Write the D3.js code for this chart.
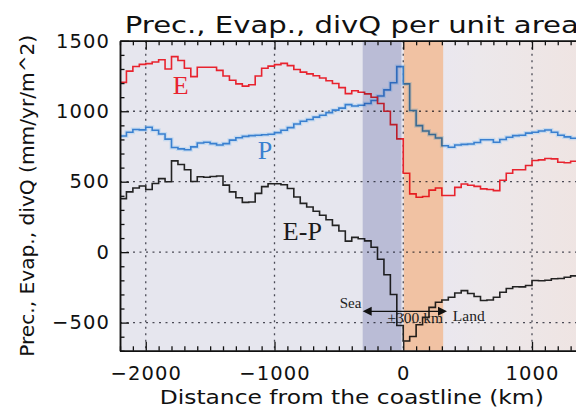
<!DOCTYPE html>
<html>
<head>
<meta charset="utf-8">
<script src="https://cdn.jsdelivr.net/npm/d3@7"></script>
<style>
  html, body { margin: 0; padding: 0; background: #ffffff; }
  svg { display: block; }
  .tick text { font-family: "DejaVu Sans", sans-serif; }
</style>
</head>
<body>
<svg id="chart" width="576" height="410"></svg>
<script>
// Start of each 50 km distance bin, km from the coastline (negative = over the sea)
const distanceKm = [
  -2200, -2150, -2100, -2050, -2000, -1950, -1900, -1850, -1800, -1750,
  -1700, -1650, -1600, -1550, -1500, -1450, -1400, -1350, -1300, -1250,
  -1200, -1150, -1100, -1050, -1000, -950, -900, -850, -800, -750,
  -700, -650, -600, -550, -500, -450, -400, -350, -300, -250,
  -200, -150, -100, -50, 0, 50, 100, 150, 200, 250,
  300, 350, 400, 450, 500, 550, 600, 650, 700, 750,
  800, 850, 900, 950, 1000, 1050, 1100, 1150, 1200, 1250, 1300
];
const binWidthKm = 50;

// Evaporation E (mm/yr/m^2)
const evaporation = [
  1205, 1285, 1318, 1333, 1338, 1350, 1365, 1300, 1388, 1360,
  1305, 1246, 1312, 1312, 1312, 1290, 1250, 1220, 1194, 1178,
  1188, 1250, 1305, 1320, 1331, 1340, 1324, 1296, 1278, 1265,
  1252, 1236, 1216, 1197, 1168, 1125, 1146, 1135, 1123, 1099,
  1055, 1000, 905, 804, 560, 414, 390, 395, 440, 455,
  402, 402, 460, 484, 475, 467, 449, 445, 437, 510,
  560, 585, 585, 615, 650, 655, 665, 662, 638, 635, 645
];

// Precipitation P (mm/yr/m^2)
const precipitation = [
  824, 851, 870, 868, 886, 865, 839, 802, 743, 733,
  727, 747, 775, 780, 770, 760, 770, 795, 812, 822,
  827, 830, 833, 837, 848, 865, 884, 910, 929, 942,
  958, 972, 990, 1008, 1022, 1047, 1037, 1043, 1055, 1076,
  1108, 1152, 1202, 1317, 1194, 1005, 898, 860, 835, 810,
  755, 745, 760, 765, 768, 778, 798, 798, 780, 800,
  815, 827, 830, 845, 851, 860, 867, 851, 830, 818, 808
];

// Moisture divergence E-P (mm/yr/m^2)
const evapMinusPrecip = [
  380, 428, 455, 470, 445, 487, 522, 500, 648, 622,
  585, 502, 535, 532, 537, 540, 476, 428, 386, 353,
  356, 417, 465, 486, 486, 478, 452, 392, 346, 320,
  290, 262, 230, 190, 150, 78, 105, 95, 80, 35,
  -50, -160, -300, -520, -630, -598, -515, -463, -392, -355,
  -340, -320, -290, -273, -293, -315, -343, -340, -320, -285,
  -258, -245, -246, -237, -201, -203, -199, -189, -187, -178, -168
];

const xTickValues = [-2000, -1000, 0, 1000];
const yTickValues = [-500, 0, 500, 1000, 1500];
const xDomain = [-2200, 1400];
const yDomain = [-700, 1500];

// Coastal zones highlighted on either side of the coastline (km)
const seaZone = [-315, -14];
const landZone = [4, 310];

const svg = d3.select("#chart");
const plot = { left: 120, right: 583.5, top: 40.8, bottom: 350.8 };

const x = d3.scaleLinear().domain(xDomain).range([plot.left, plot.right]);
const y = d3.scaleLinear().domain(yDomain).range([plot.bottom, plot.top]);

const defs = svg.append("defs");
defs.append("clipPath").attr("id", "plotClip")
  .append("rect")
  .attr("x", plot.left).attr("y", plot.top)
  .attr("width", plot.right - plot.left).attr("height", plot.bottom - plot.top);

const grad = defs.append("linearGradient").attr("id", "landGrad")
  .attr("gradientUnits", "userSpaceOnUse")
  .attr("x1", x(landZone[1])).attr("x2", plot.right).attr("y1", 0).attr("y2", 0);
grad.append("stop").attr("offset", "0").attr("stop-color", "#eae7ef");
grad.append("stop").attr("offset", "0.25").attr("stop-color", "#ece8eb");
grad.append("stop").attr("offset", "1").attr("stop-color", "#efe4e2");

const g = svg.append("g").attr("clip-path", "url(#plotClip)");

// Plot background: sea side and land side
g.append("rect")
  .attr("x", plot.left).attr("y", plot.top)
  .attr("width", plot.right - plot.left).attr("height", plot.bottom - plot.top)
  .attr("fill", "#e6e6ee");
g.append("rect")
  .attr("x", x(landZone[1])).attr("y", plot.top)
  .attr("width", plot.right - x(landZone[1])).attr("height", plot.bottom - plot.top)
  .attr("fill", "url(#landGrad)");
g.append("rect")
  .attr("x", x(seaZone[1])).attr("y", plot.top)
  .attr("width", x(landZone[0]) - x(seaZone[1])).attr("height", plot.bottom - plot.top)
  .attr("fill", "#e9e7ef");
g.append("rect")
  .attr("x", x(landZone[0])).attr("y", plot.top)
  .attr("width", x(landZone[1]) - x(landZone[0])).attr("height", plot.bottom - plot.top)
  .attr("fill", "#f3ecea");

// Dotted grid at the major ticks
g.selectAll("line.vgrid").data(xTickValues).enter().append("line")
  .attr("class", "vgrid")
  .attr("x1", d => x(d)).attr("x2", d => x(d))
  .attr("y1", plot.top).attr("y2", plot.bottom)
  .attr("stroke", "#4a4a55").attr("stroke-width", 1.3)
  .attr("stroke-dasharray", "2,4.5");
g.selectAll("line.hgrid").data(yTickValues.filter(v => v > yDomain[0] && v < yDomain[1])).enter().append("line")
  .attr("class", "hgrid")
  .attr("y1", d => y(d)).attr("y2", d => y(d))
  .attr("x1", plot.left).attr("x2", plot.right)
  .attr("stroke", "#4a4a55").attr("stroke-width", 1.3)
  .attr("stroke-dasharray", "2,4.5");

// Step lines: each value holds across its 50 km bin
function stepPoints(values) {
  const pts = [];
  values.forEach((v, i) => {
    pts.push([distanceKm[i], v]);
    pts.push([distanceKm[i] + binWidthKm, v]);
  });
  return pts;
}
const line = d3.line().x(d => x(d[0])).y(d => y(d[1]));

g.append("path")
  .attr("d", line(stepPoints(precipitation)))
  .attr("fill", "none").attr("stroke", "#a9d0f3").attr("stroke-width", 4)
  .attr("stroke-opacity", 0.55);
g.append("path")
  .attr("d", line(stepPoints(precipitation)))
  .attr("fill", "none").attr("stroke", "#3a80d0").attr("stroke-width", 1.6);
g.append("path")
  .attr("d", line(stepPoints(evaporation)))
  .attr("fill", "none").attr("stroke", "#e8232e").attr("stroke-width", 1.6);
g.append("path")
  .attr("d", line(stepPoints(evapMinusPrecip)))
  .attr("fill", "none").attr("stroke", "#232323").attr("stroke-width", 1.6);

// Tinted coastal zones laid over the curves
g.append("rect")
  .attr("x", x(seaZone[0])).attr("y", plot.top)
  .attr("width", x(seaZone[1]) - x(seaZone[0])).attr("height", plot.bottom - plot.top)
  .attr("fill", "#cfd1e6").style("mix-blend-mode", "multiply");
g.append("rect")
  .attr("x", x(landZone[0])).attr("y", plot.top)
  .attr("width", x(landZone[1]) - x(landZone[0])).attr("height", plot.bottom - plot.top)
  .attr("fill", "#fdd2b2").style("mix-blend-mode", "multiply");

// Axes with inward ticks: major every 1000 km / 500 units, minor every 100
const xMinor = d3.range(xDomain[0], xDomain[1] + 1, 100).filter(v => !xTickValues.includes(v));
const yMinor = d3.range(yDomain[0], yDomain[1] + 1, 100).filter(v => !yTickValues.includes(v));
const fmt = d3.format("d");

function styleAxis(sel) {
  sel.selectAll("path.domain").attr("stroke", "#111").attr("stroke-width", 1.5);
  sel.selectAll(".tick line").attr("stroke", "#111").attr("stroke-width", 1.3);
  sel.selectAll(".tick text").attr("fill", "#111")
    .style("font-size", "19.5px").style("letter-spacing", "1.1px");
}

svg.append("g").attr("transform", `translate(0,${plot.bottom})`)
  .call(d3.axisBottom(x).tickValues(xMinor).tickSizeInner(-4.5).tickSizeOuter(0).tickFormat(""))
  .call(styleAxis);
svg.append("g").attr("transform", `translate(0,${plot.bottom})`)
  .call(d3.axisBottom(x).tickValues(xTickValues).tickSizeInner(-9).tickSizeOuter(0)
    .tickPadding(15.5).tickFormat(fmt))
  .call(styleAxis);

svg.append("g").attr("transform", `translate(0,${plot.top})`)
  .call(d3.axisTop(x).tickValues(xMinor).tickSizeInner(-4.5).tickSizeOuter(0).tickFormat(""))
  .call(styleAxis);
svg.append("g").attr("transform", `translate(0,${plot.top})`)
  .call(d3.axisTop(x).tickValues(xTickValues).tickSizeInner(-9).tickSizeOuter(0).tickFormat(""))
  .call(styleAxis);

svg.append("g").attr("transform", `translate(${plot.left},0)`)
  .call(d3.axisLeft(y).tickValues(yMinor).tickSizeInner(-4.5).tickSizeOuter(0).tickFormat(""))
  .call(styleAxis);
svg.append("g").attr("transform", `translate(${plot.left},0)`)
  .call(d3.axisLeft(y).tickValues(yTickValues).tickSizeInner(-9).tickSizeOuter(0)
    .tickPadding(10).tickFormat(fmt))
  .call(styleAxis);

// Titles
const sans = '"DejaVu Sans", sans-serif';
const midX = (plot.left + plot.right) / 2;
svg.append("text")
  .attr("x", midX).attr("y", 33)
  .attr("text-anchor", "middle")
  .attr("textLength", 454).attr("lengthAdjust", "spacingAndGlyphs")
  .style("font-family", sans).style("font-size", "22.5px").attr("fill", "#111")
  .text("Prec., Evap., divQ per unit area");
svg.append("text")
  .attr("x", midX).attr("y", 404)
  .attr("text-anchor", "middle")
  .attr("textLength", 384).attr("lengthAdjust", "spacingAndGlyphs")
  .style("font-family", sans).style("font-size", "20px").attr("fill", "#111")
  .text("Distance from the coastline (km)");
svg.append("text")
  .attr("transform", `translate(34,${(plot.top + plot.bottom) / 2}) rotate(-90)`)
  .attr("text-anchor", "middle")
  .attr("textLength", 322).attr("lengthAdjust", "spacingAndGlyphs")
  .style("font-family", sans).style("font-size", "20px").attr("fill", "#111")
  .text("Prec., Evap., divQ (mm/yr/m^2)");

// Series labels
const serif = '"Liberation Serif", "Times New Roman", serif';
svg.append("text").attr("x", x(-1790)).attr("y", y(1120))
  .style("font-family", serif).style("font-size", "26px").attr("fill", "#e8232e").text("E");
svg.append("text").attr("x", x(-1130)).attr("y", y(660))
  .style("font-family", serif).style("font-size", "26px").attr("fill", "#3a80d0").text("P");
svg.append("text").attr("x", x(-935)).attr("y", y(83))
  .style("font-family", serif).style("font-size", "26px").attr("fill", "#1a1a1a").text("E-P");

// Sea / land arrow annotation
const arrowY = y(-420);
const arrowL = x(-315), arrowR = x(340);
svg.append("line")
  .attr("x1", arrowL + 6).attr("x2", arrowR - 6)
  .attr("y1", arrowY).attr("y2", arrowY)
  .attr("stroke", "#111").attr("stroke-width", 1.4);
svg.append("path")
  .attr("d", `M${arrowL},${arrowY} l9,-4.5 l0,9 Z`).attr("fill", "#111");
svg.append("path")
  .attr("d", `M${arrowR},${arrowY} l-9,-4.5 l0,9 Z`).attr("fill", "#111");
svg.append("text").attr("x", x(-325)).attr("y", y(-395))
  .attr("text-anchor", "end")
  .style("font-family", serif).style("font-size", "15px").attr("fill", "#222").text("Sea");
svg.append("text").attr("x", x(-122)).attr("y", y(-505))
  .style("font-family", serif).style("font-size", "15.5px").attr("fill", "#222").text("±300 km");
svg.append("text").attr("x", x(385)).attr("y", y(-488))
  .style("font-family", serif).style("font-size", "15.5px").attr("fill", "#222").text("Land");
</script>
</body>
</html>
